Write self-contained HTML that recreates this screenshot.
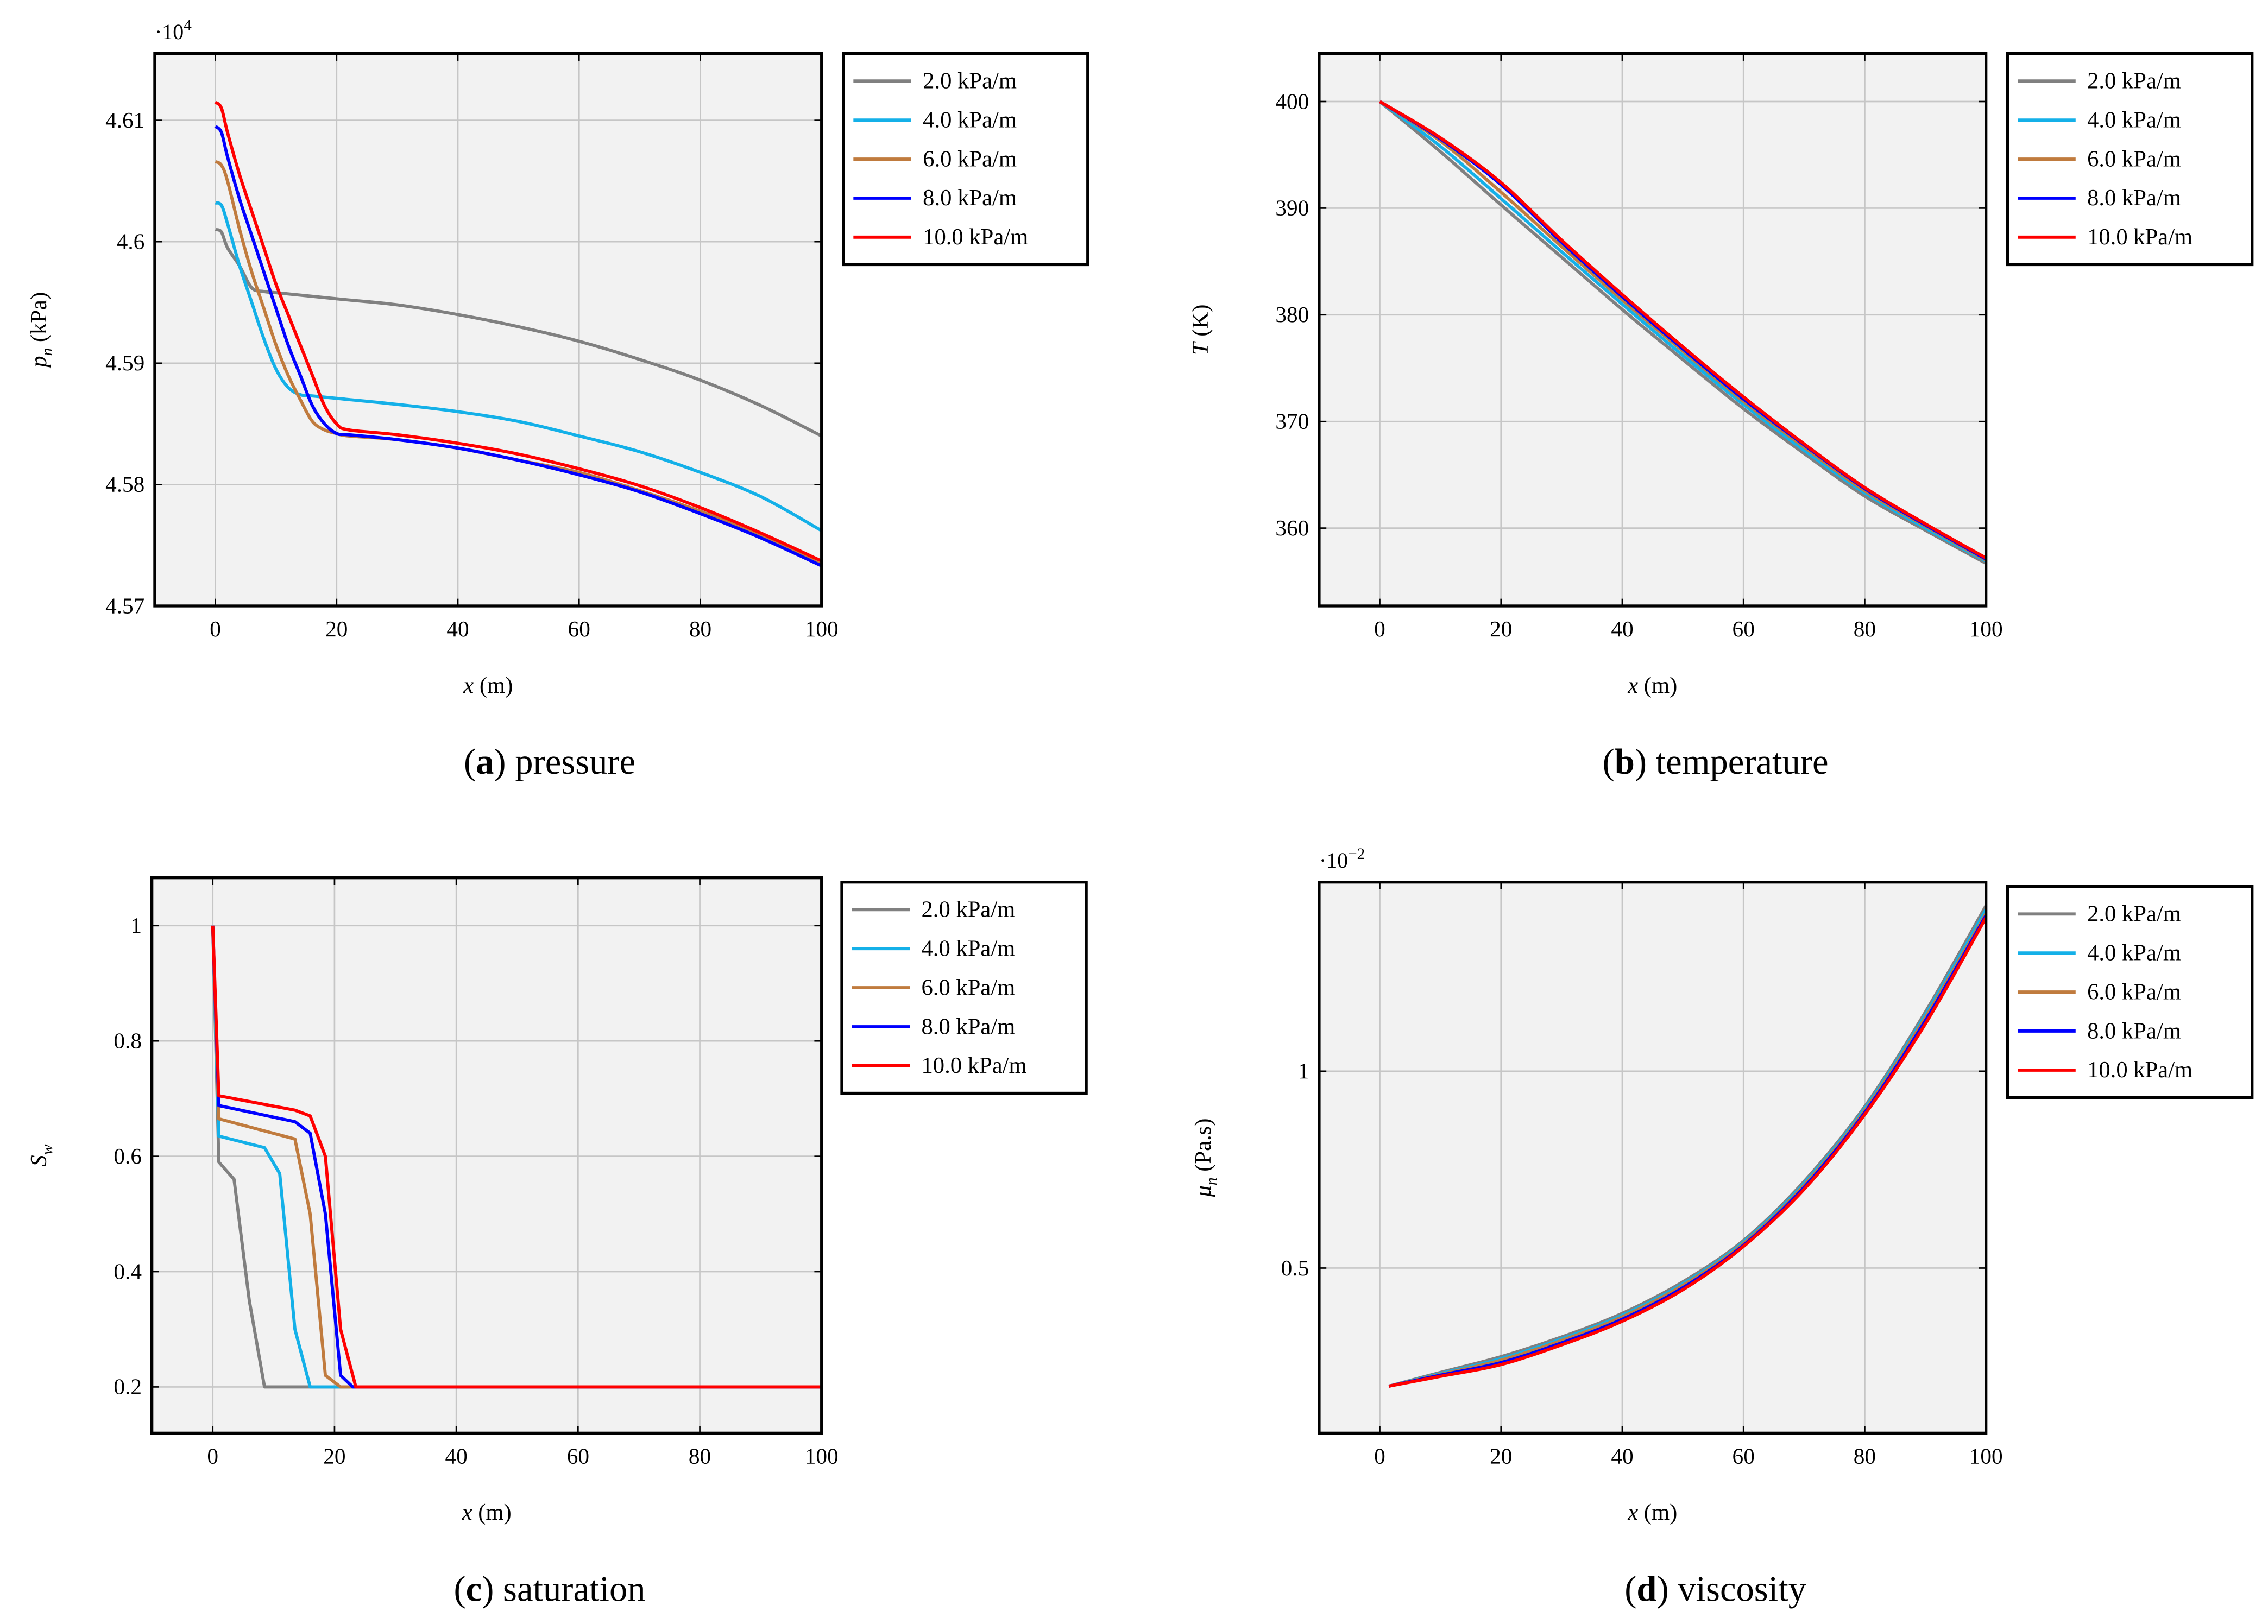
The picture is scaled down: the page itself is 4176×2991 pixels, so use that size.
<!DOCTYPE html>
<html><head><meta charset="utf-8">
<style>
html,body{margin:0;padding:0;background:#fff;}
svg{display:block;font-family:"Liberation Serif",serif;}
</style></head>
<body>
<svg id="fig" width="4176" height="2991" viewBox="0 0 1568 1123" xmlns="http://www.w3.org/2000/svg"></svg>
<script>
const seriesLabels = ["2.0 kPa/m","4.0 kPa/m","6.0 kPa/m","8.0 kPa/m","10.0 kPa/m"];
const seriesColors = ["#808080","#14b0e8","#c07b3e","#0000ff","#ff0000"];

// (a) pressure (x10^4 kPa)
const pX = [0,1,2,4,6,8,10,12,14,16,18,20,22,30,40,50,60,70,80,90,100];
const pS1 = [4.601,4.6008,4.5995,4.598,4.5962,4.5959,4.5958,4.5957,4.5956,4.5955,4.5954,4.5953,4.5952,4.5948,4.594,4.593,4.5918,4.5903,4.5886,4.5865,4.584];
const pS2 = [4.6032,4.603,4.6015,4.598,4.595,4.592,4.5895,4.588,4.5874,4.5873,4.5872,4.5871,4.587,4.5866,4.586,4.5852,4.584,4.5827,4.581,4.579,4.5762];
const pS3 = [4.6066,4.6063,4.605,4.601,4.5975,4.5945,4.5915,4.589,4.587,4.5852,4.5845,4.5842,4.584,4.5837,4.583,4.582,4.581,4.5795,4.5778,4.5758,4.5734];
const pS4 = [4.6095,4.609,4.607,4.6035,4.6005,4.5975,4.5945,4.5915,4.589,4.5865,4.585,4.5842,4.5841,4.5837,4.583,4.582,4.5808,4.5794,4.5776,4.5756,4.5733];
const pS5 = [4.6115,4.611,4.609,4.6055,4.6025,4.5995,4.5965,4.594,4.5915,4.589,4.5865,4.585,4.5845,4.5841,4.5834,4.5825,4.5813,4.5799,4.5781,4.576,4.5737];
const pYTicks = [4.57,4.58,4.59,4.6,4.61];
const pYTickLabels = ["4.57","4.58","4.59","4.6","4.61"];

// (b) temperature (K)
const tX = [0,10,20,30,40,50,60,70,80,90,100];
const tS1 = [400,395.3,390.3,385.4,380.5,375.8,371.2,367.0,363.0,359.8,356.7];
const tS2 = [400,395.8,390.9,385.9,381.0,376.2,371.6,367.3,363.3,360.0,356.9];
const tS3 = [400,396.3,391.5,386.4,381.4,376.6,371.9,367.6,363.5,360.2,357.0];
const tS4 = [400,396.5,392.2,386.8,381.7,376.8,372.1,367.8,363.7,360.3,357.1];
const tS5 = [400,396.6,392.4,387.0,381.9,377.0,372.3,367.9,363.8,360.4,357.2];
const tYTicks = [360,370,380,390,400];
const tYTickLabels = ["360","370","380","390","400"];

// (c) saturation
const sX1 = [0,1,3.5,6,8.5,100];
const sS1 = [1,0.59,0.56,0.35,0.2,0.2];
const sX2 = [0,1,8.5,11,13.5,16,100];
const sS2 = [1,0.635,0.615,0.57,0.3,0.2,0.2];
const sX3 = [0,1,13.5,16,18.5,21,100];
const sS3 = [1,0.665,0.63,0.5,0.22,0.2,0.2];
const sX4 = [0,1,13.5,16,18.5,21,23,100];
const sS4 = [1,0.688,0.66,0.64,0.5,0.22,0.2,0.2];
const sX5 = [0,1,13.5,16,18.5,21,23.5,100];
const sS5 = [1,0.705,0.68,0.67,0.6,0.3,0.2,0.2];
const sYTicks = [0.2,0.4,0.6,0.8,1];
const sYTickLabels = ["0.2","0.4","0.6","0.8","1"];

// (d) viscosity (x10^-2 Pa.s)
const vX = [1.5,10,20,30,40,50,60,70,80,90,100];
const vS1 = [0.2,0.235,0.275,0.325,0.385,0.465,0.57,0.72,0.91,1.15,1.42];
const vS2 = [0.2,0.232,0.27,0.32,0.38,0.46,0.566,0.715,0.905,1.143,1.41];
const vS3 = [0.2,0.23,0.266,0.316,0.376,0.456,0.562,0.71,0.9,1.136,1.40];
const vS4 = [0.2,0.228,0.26,0.31,0.37,0.45,0.558,0.705,0.895,1.128,1.395];
const vS5 = [0.2,0.225,0.255,0.305,0.365,0.445,0.555,0.70,0.89,1.12,1.39];
const vYTicks = [0.5,1];
const vYTickLabels = ["0.5","1"];

const xTicks = [0,20,40,60,80,100];
const xTickLabels = ["0","20","40","60","80","100"];

const NS = "http://www.w3.org/2000/svg";
const svg = document.getElementById('fig');
function mk(tag, attrs, parent){
  const e = document.createElementNS(NS, tag);
  for (const k in attrs) e.setAttribute(k, attrs[k]);
  (parent||svg).appendChild(e);
  return e;
}
function smoothPath(pts){
  let d = 'M' + pts[0][0].toFixed(2) + ' ' + pts[0][1].toFixed(2);
  for (let i = 0; i < pts.length - 1; i++){
    const p0 = pts[i-1] || pts[i], p1 = pts[i], p2 = pts[i+1], p3 = pts[i+2] || p2;
    const c1x = p1[0] + (p2[0]-p0[0])/6, c1y = p1[1] + (p2[1]-p0[1])/6;
    const c2x = p2[0] - (p3[0]-p1[0])/6, c2y = p2[1] - (p3[1]-p1[1])/6;
    d += ` C${c1x.toFixed(2)} ${c1y.toFixed(2)} ${c2x.toFixed(2)} ${c2y.toFixed(2)} ${p2[0].toFixed(2)} ${p2[1].toFixed(2)}`;
  }
  return d;
}

function panel(cfg){
  const g = mk('g', {});
  
  
  const L=cfg.box[0], T=cfg.box[1], R=cfg.box[2], B=cfg.box[3];
  const xs = v => L + (v - (-10)) / 110 * (R - L);
  const ys = v => B - (v - cfg.ymin) / (cfg.ymax - cfg.ymin) * (B - T);
  const bg = mk('rect', {x:L,y:T,width:R-L,height:B-T,fill:'#f2f2f2'}, g);
  
  
  xTicks.forEach((t,i)=>{
    const x = xs(t);
    const gl = mk('line', {x1:x,x2:x,y1:T,y2:B,stroke:'#c6c6c6','stroke-width':1}, g);
    
    
    mk('line', {x1:x,x2:x,y1:B,y2:B-5,stroke:'#000','stroke-width':1}, g);
    mk('line', {x1:x,x2:x,y1:T,y2:T+5,stroke:'#000','stroke-width':1}, g);
    const tl = mk('text', {x:x,y:B+21,'font-size':15.5,'text-anchor':'middle'}, g);
    tl.textContent = xTickLabels[i];
    
    
  });
  cfg.yTicks.forEach((t,i)=>{
    const y = ys(t);
    const gl = mk('line', {x1:L,x2:R,y1:y,y2:y,stroke:'#c6c6c6','stroke-width':1}, g);
    
    
    mk('line', {x1:L,x2:L+5,y1:y,y2:y,stroke:'#000','stroke-width':1}, g);
    mk('line', {x1:R,x2:R-5,y1:y,y2:y,stroke:'#000','stroke-width':1}, g);
    const tl = mk('text', {x:L-7,y:y+5,'font-size':15.5,'text-anchor':'end'}, g);
    tl.textContent = cfg.yTickLabels[i];
    
    
  });
  cfg.series.forEach((s,i)=>{
    const pts = s.x.map((xv,j)=>[xs(xv), ys(s.y[j])]);
    const d = cfg.smooth ? smoothPath(pts) : pts.map((p,j)=>(j?'L':'M')+p[0].toFixed(2)+' '+p[1].toFixed(2)).join(' ');
    const p = mk('path', {d:d,fill:'none',stroke:seriesColors[i],'stroke-width':2.2,'stroke-linejoin':'round'}, g);
    
    
  });
  const fr = mk('rect', {x:L,y:T,width:R-L,height:B-T,fill:'none',stroke:'#000','stroke-width':2}, g);
  
  
  const xl = mk('text', {x:(L+R)/2, y:B+60,'font-size':16,'text-anchor':'middle'}, g);
  xl.innerHTML = '<tspan font-style="italic">x</tspan> (m)';
  
  
  const yx = cfg.ylabelX, yy = (T+B)/2;
  const yl = mk('text', {x:yx,y:yy,'font-size':16,'text-anchor':'middle',transform:`rotate(-90 ${yx} ${yy})`}, g);
  yl.innerHTML = cfg.ylabel;
  
  
  if (cfg.mult){
    const m = mk('text', {x:L,y:T-10,'font-size':15,'text-anchor':'start'}, g);
    m.innerHTML = cfg.mult;
    
    
  }
  const lg = mk('g', {}, g);
  
  
  const lx = cfg.legend[0], ly = cfg.legend[1];
  mk('rect', {x:lx,y:ly,width:169,height:146,fill:'#fff',stroke:'#000','stroke-width':2}, lg);
  seriesLabels.forEach((lab,i)=>{
    const y = ly + 19 + i*27;
    const e = mk('g', {}, lg);
    
    
    mk('line', {x1:lx+7,x2:lx+47,y1:y,y2:y,stroke:seriesColors[i],'stroke-width':2.2}, e);
    const t = mk('text', {x:lx+55,y:y+5,'font-size':16}, e);
    t.textContent = lab;
  });
  const c = mk('text', {x:cfg.caption[0],y:cfg.caption[1],'font-size':25,'text-anchor':'middle'}, g);
  c.innerHTML = cfg.captionHtml;
  
  
}

panel({name:'pressure-panel', box:[107,37,568,419], ymin:4.57, ymax:4.6155, smooth:true,
  yTicks:pYTicks, yTickLabels:pYTickLabels, ylabelX:32,
  ylabel:'<tspan font-style="italic">p</tspan><tspan font-style="italic" font-size="11" dy="4">n</tspan><tspan dy="-4"> (kPa)</tspan>',
  mult:'·10<tspan font-size="11" dy="-6">4</tspan>',
  series:[{x:pX,y:pS1},{x:pX,y:pS2},{x:pX,y:pS3},{x:pX,y:pS4},{x:pX,y:pS5}],
  legend:[583,37], caption:[380,535], captionHtml:'(<tspan font-weight="bold">a</tspan>) pressure'});

panel({name:'temperature-panel', box:[912,37,1373,419], ymin:352.7, ymax:404.5, smooth:true,
  yTicks:tYTicks, yTickLabels:tYTickLabels, ylabelX:835,
  ylabel:'<tspan font-style="italic">T</tspan> (K)',
  series:[{x:tX,y:tS1},{x:tX,y:tS2},{x:tX,y:tS3},{x:tX,y:tS4},{x:tX,y:tS5}],
  legend:[1388,37], caption:[1186,535], captionHtml:'(<tspan font-weight="bold">b</tspan>) temperature'});

panel({name:'saturation-panel', box:[105,607,568,991], ymin:0.12, ymax:1.083, smooth:false,
  yTicks:sYTicks, yTickLabels:sYTickLabels, ylabelX:32,
  ylabel:'<tspan font-style="italic">S</tspan><tspan font-style="italic" font-size="11" dy="4">w</tspan>',
  series:[{x:sX1,y:sS1},{x:sX2,y:sS2},{x:sX3,y:sS3},{x:sX4,y:sS4},{x:sX5,y:sS5}],
  legend:[582,610], caption:[380,1107], captionHtml:'(<tspan font-weight="bold">c</tspan>) saturation'});

panel({name:'viscosity-panel', box:[912,610,1373,991], ymin:0.081, ymax:1.48, smooth:true,
  yTicks:vYTicks, yTickLabels:vYTickLabels, ylabelX:837,
  ylabel:'<tspan font-style="italic">μ</tspan><tspan font-style="italic" font-size="11" dy="4">n</tspan><tspan dy="-4"> (Pa.s)</tspan>',
  mult:'·10<tspan font-size="11" dy="-6">−2</tspan>',
  series:[{x:vX,y:vS1},{x:vX,y:vS2},{x:vX,y:vS3},{x:vX,y:vS4},{x:vX,y:vS5}],
  legend:[1388,613], caption:[1186,1107], captionHtml:'(<tspan font-weight="bold">d</tspan>) viscosity'});
</script>
</body></html>
